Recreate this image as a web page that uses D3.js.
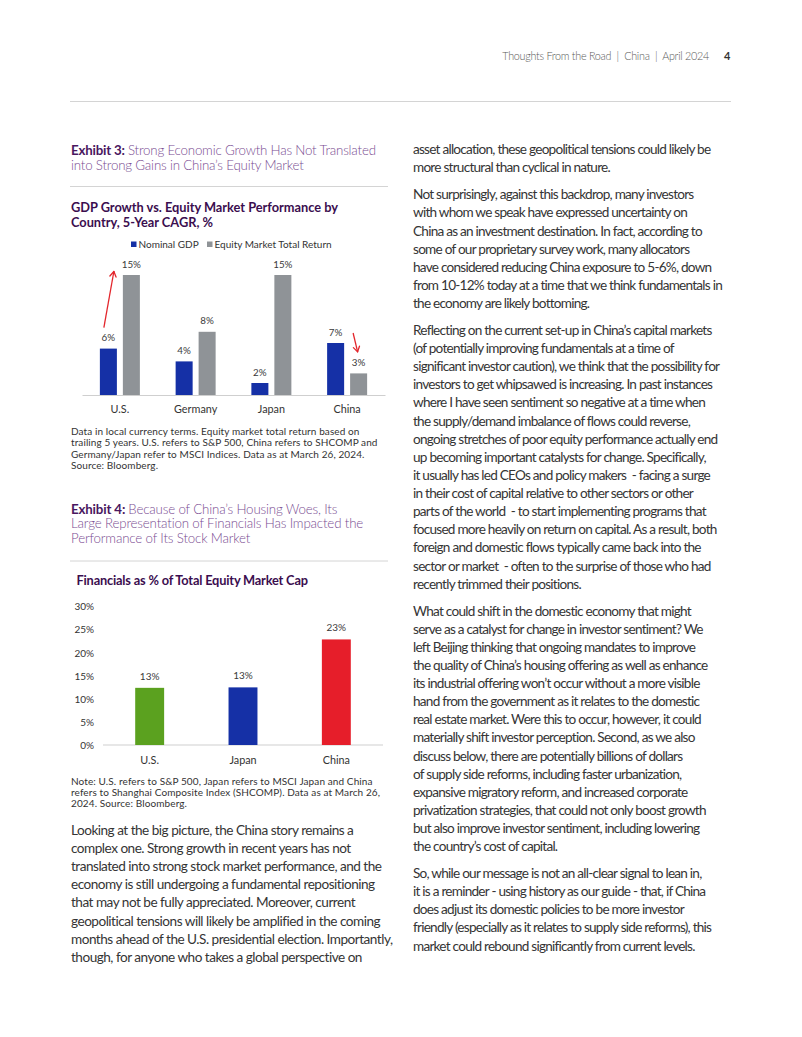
<!DOCTYPE html>
<html><head><meta charset="utf-8">
<script src="https://cdn.jsdelivr.net/npm/d3@7"></script>
<style>
html,body{margin:0;padding:0;background:#fff;}
svg{display:block;font-family:Lato,"Noto Sans",sans-serif;}
text{white-space:pre;}
</style>
</head><body>
<svg id="page" width="802" height="1037"></svg>
<script>
// ---------- DATA ----------
const gdpCategories = ["U.S.", "Germany", "Japan", "China"];
const gdpSeries = ["Nominal GDP", "Equity Market Total Return"];
const nominalGdp = [5.8, 4.2, 1.5, 6.5];
const equityReturn = [15, 7.9, 15, 2.7];
const nominalGdpLabels = ["6%", "4%", "2%", "7%"];
const equityReturnLabels = ["15%", "8%", "15%", "3%"];

const finCategories = ["U.S.", "Japan", "China"];
const financialsShare = [12.4, 12.5, 22.9];
const financialsLabels = ["13%", "13%", "23%"];
const finTicks = [0, 5, 10, 15, 20, 25, 30];

// ---------- TEXT ----------
const headerText = "Thoughts From the Road  |  China  |  April 2024";
const pageNumber = "4";
const exhibit3Title = [["Exhibit 3: ", "Strong Economic Growth Has Not Translated"], ["", "into Strong Gains in China’s Equity Market"]];
const chart1Title = ["GDP Growth vs. Equity Market Performance by", "Country, 5-Year CAGR, %"];
const note1 = ["Data in local currency terms. Equity market total return based on",
  "trailing 5 years. U.S. refers to S&P 500, China refers to SHCOMP and",
  "Germany/Japan refer to MSCI Indices. Data as at March 26, 2024.",
  "Source: Bloomberg."];
const exhibit4Title = [["Exhibit 4: ", "Because of China’s Housing Woes, Its"], ["", "Large Representation of Financials Has Impacted the"], ["", "Performance of Its Stock Market"]];
const chart2Title = "Financials as % of Total Equity Market Cap";
const note2 = ["Note: U.S. refers to S&P 500, Japan refers to MSCI Japan and China",
  "refers to Shanghai Composite Index (SHCOMP). Data as at March 26,",
  "2024. Source: Bloomberg."];
const leftBody = [[
  "Looking at the big picture, the China story remains a",
  "complex one. Strong growth in recent years has not",
  "translated into strong stock market performance, and the",
  "economy is still undergoing a fundamental repositioning",
  "that may not be fully appreciated. Moreover, current",
  "geopolitical tensions will likely be amplified in the coming",
  "months ahead of the U.S. presidential election. Importantly,",
  "though, for anyone who takes a global perspective on"]];
const rightBody = [
 ["asset allocation, these geopolitical tensions could likely be",
  "more structural than cyclical in nature."],
 ["Not surprisingly, against this backdrop, many investors",
  "with whom we speak have expressed uncertainty on",
  "China as an investment destination. In fact, according to",
  "some of our proprietary survey work, many allocators",
  "have considered reducing China exposure to 5-6%, down",
  "from 10-12% today at a time that we think fundamentals in",
  "the economy are likely bottoming."],
 ["Reflecting on the current set-up in China’s capital markets",
  "(of potentially improving fundamentals at a time of",
  "significant investor caution), we think that the possibility for",
  "investors to get whipsawed is increasing. In past instances",
  "where I have seen sentiment so negative at a time when",
  "the supply/demand imbalance of flows could reverse,",
  "ongoing stretches of poor equity performance actually end",
  "up becoming important catalysts for change. Specifically,",
  "it usually has led CEOs and policy makers  - facing a surge",
  "in their cost of capital relative to other sectors or other",
  "parts of the world  - to start implementing programs that",
  "focused more heavily on return on capital. As a result, both",
  "foreign and domestic flows typically came back into the",
  "sector or market  - often to the surprise of those who had",
  "recently trimmed their positions."],
 ["What could shift in the domestic economy that might",
  "serve as a catalyst for change in investor sentiment? We",
  "left Beijing thinking that ongoing mandates to improve",
  "the quality of China’s housing offering as well as enhance",
  "its industrial offering won’t occur without a more visible",
  "hand from the government as it relates to the domestic",
  "real estate market. Were this to occur, however, it could",
  "materially shift investor perception. Second, as we also",
  "discuss below, there are potentially billions of dollars",
  "of supply side reforms, including faster urbanization,",
  "expansive migratory reform, and increased corporate",
  "privatization strategies, that could not only boost growth",
  "but also improve investor sentiment, including lowering",
  "the country’s cost of capital."],
 ["So, while our message is not an all-clear signal to lean in,",
  "it is a reminder - using history as our guide - that, if China",
  "does adjust its domestic policies to be more investor",
  "friendly (especially as it relates to supply side reforms), this",
  "market could rebound significantly from current levels."]];

// ---------- STYLE ----------
const C = {
  body: "#353535", note: "#333", header: "#5a5a5a",
  exBold: "#4a1760", exReg: "#7a4d92", chartTitle: "#3b0e4f",
  rule: "#d4d4d4", axis: "#cfcfcf",
  blue: "#1530a6", gray: "#8f9397", green: "#5ba11f", red: "#e61e2a", arrow: "#e3262c"
};

const svg = d3.select("#page");
svg.append("rect").attr("width", 802).attr("height", 1037).attr("fill", "#fff");

function fitSpacing(nodes, refNode, target) {
  const w = refNode.getComputedTextLength();
  const n = refNode.textContent.length;
  const ls = (target - w) / Math.max(1, n - 1);
  nodes.forEach(nd => d3.select(nd).attr("letter-spacing", ls.toFixed(3)));
}

// ---------- HEADER ----------
const hdr = svg.append("text").attr("x", 709).attr("y", 59.5).attr("text-anchor", "end")
  .attr("font-size", 10.8).attr("font-weight", 300).attr("fill", C.header).text(headerText);
fitSpacing([hdr.node()], hdr.node(), 207);
svg.append("text").attr("x", 724).attr("y", 59.5).attr("font-size", 11).attr("font-weight", 700)
  .attr("fill", "#333").text(pageNumber);
svg.append("line").attr("x1", 70).attr("x2", 731).attr("y1", 101.5).attr("y2", 101.5)
  .attr("stroke", C.rule).attr("stroke-width", 1);

// ---------- helpers ----------
function exhibitTitle(lines, x, y0, lh) {
  const nodes = [];
  lines.forEach((ln, i) => {
    const t = svg.append("text").attr("x", x).attr("y", y0 + i * lh).attr("font-size", 13.3);
    if (ln[0]) t.append("tspan").attr("font-weight", 700).attr("fill", C.exBold).text(ln[0]);
    t.append("tspan").attr("fill", C.exReg).attr("font-weight", 300).text(ln[1]);
    nodes.push(t.node());
  });
  return nodes;
}
function lineBlock(lines, x, y0, lh, size, color, weight) {
  return lines.map((ln, i) => svg.append("text").attr("x", x).attr("y", y0 + i * lh)
    .attr("font-size", size).attr("fill", color).attr("font-weight", weight || 400).text(ln).node());
}
function paragraphs(paras, x, y0, lh, gap, size) {
  const nodes = [];
  let y = y0;
  paras.forEach(p => {
    p.forEach(ln => {
      nodes.push(svg.append("text").attr("x", x).attr("y", y).attr("font-size", size)
        .attr("fill", C.body).text(ln).node());
      y += lh;
    });
    y += gap;
  });
  return nodes;
}

// ---------- EXHIBIT 3 ----------
const ex3 = exhibitTitle(exhibit3Title, 71, 155, 15.2);
fitSpacing(ex3, ex3[0], 305);
svg.append("line").attr("x1", 70).attr("x2", 388).attr("y1", 186.5).attr("y2", 186.5)
  .attr("stroke", C.rule);
const ct1 = lineBlock(chart1Title, 71, 211.5, 15.5, 12.8, C.chartTitle, 700);
fitSpacing(ct1, ct1[0], 267);

// chart 1
const y1 = d3.scaleLinear().domain([0, 15]).range([395, 275]);
const x0 = d3.scaleBand().domain(gdpCategories).range([82, 385]);
const groupW = 40;
const x1 = d3.scaleBand().domain(gdpSeries)
  .range([(x0.bandwidth() - groupW) / 2, (x0.bandwidth() + groupW) / 2]).paddingInner(0.26);
const g1 = svg.append("g");
const seriesVals = [nominalGdp, equityReturn];
const seriesLabels = [nominalGdpLabels, equityReturnLabels];
const seriesCols = [C.blue, C.gray];

// legend
const lg = svg.append("g").attr("font-size", 10).attr("fill", "#333");
const legendX = [131, 207];
gdpSeries.forEach((s, i) => {
  lg.append("rect").attr("x", legendX[i]).attr("y", 241.5).attr("width", 5.5).attr("height", 5.5).attr("fill", seriesCols[i]);
  lg.append("text").attr("x", legendX[i] + 7.5).attr("y", 247.5).attr("fill", "#333").text(s);
});

gdpSeries.forEach((s, si) => {
  const vals = seriesVals[si];
  g1.selectAll(null).data(gdpCategories).enter().append("rect")
    .attr("x", d => x0(d) + x1(s))
    .attr("y", (d, i) => y1(vals[i]))
    .attr("width", x1.bandwidth())
    .attr("height", (d, i) => y1(0) - y1(vals[i]))
    .attr("fill", seriesCols[si]);
  g1.selectAll(null).data(gdpCategories).enter().append("text")
    .attr("x", d => x0(d) + x1(s) + x1.bandwidth() / 2)
    .attr("y", (d, i) => y1(vals[i]) - 7.5)
    .attr("text-anchor", "middle").attr("font-size", 9.8).attr("fill", "#3a3a3a")
    .text((d, i) => seriesLabels[si][i]);
});
const ax1 = g1.append("g").attr("transform", `translate(0,${y1(0)})`)
  .call(d3.axisBottom(x0).tickSize(0).tickPadding(10));
ax1.select(".domain").attr("stroke", C.axis);
ax1.selectAll("text").attr("font-size", 10.8).attr("fill", "#333").attr("font-family", "Lato, sans-serif");

function arrow(xa, ya, xb, yb) {
  g1.append("line").attr("x1", xa).attr("y1", ya).attr("x2", xb).attr("y2", yb)
    .attr("stroke", C.arrow).attr("stroke-width", 1.3);
  const ang = Math.atan2(yb - ya, xb - xa);
  const L = 6, spread = 0.55;
  [ang + Math.PI - spread, ang + Math.PI + spread].forEach(a => {
    g1.append("line").attr("x1", xb).attr("y1", yb)
      .attr("x2", xb + L * Math.cos(a)).attr("y2", yb + L * Math.sin(a))
      .attr("stroke", C.arrow).attr("stroke-width", 1.3).attr("stroke-linecap", "round");
  });
}
{
  const us = gdpCategories[0], cn = gdpCategories[3];
  arrow(x0(us) + x1(gdpSeries[0]) + 4, y1(nominalGdp[0]) - 21,
        x0(us) + x1(gdpSeries[1]) - 9, y1(equityReturn[0]) - 3.5);
  arrow(x0(cn) + x1(gdpSeries[1]) + 3, y1(nominalGdp[3]) - 10,
        x0(cn) + x1(gdpSeries[1]) + 7.5, y1(equityReturn[3]) - 21.5);
}

const n1 = lineBlock(note1, 71, 435, 11.45, 10, C.note);
fitSpacing(n1, n1[1], 306.5);

// ---------- EXHIBIT 4 ----------
const ex4 = exhibitTitle(exhibit4Title, 71, 513.5, 14.7);
fitSpacing(ex4, ex4[1], 292.5);
svg.append("line").attr("x1", 70).attr("x2", 388).attr("y1", 561).attr("y2", 561)
  .attr("stroke", C.rule);
const ct2 = lineBlock([chart2Title], 76.5, 585, 15, 12.8, C.chartTitle, 700);
fitSpacing(ct2, ct2[0], 231.5);

const y2 = d3.scaleLinear().domain([0, 30]).range([745, 606.7]);
const xb = d3.scaleBand().domain(finCategories).range([103, 383]).paddingInner(0.69).paddingOuter(0.345);
const finColors = [C.green, C.blue, C.red];
const g2 = svg.append("g");
const yax = g2.append("g").attr("transform", "translate(94,0)")
  .call(d3.axisLeft(y2).tickValues(finTicks).tickFormat(d => d + "%").tickSize(0).tickPadding(0));
yax.select(".domain").remove();
yax.selectAll("text").attr("font-size", 10).attr("fill", "#333").attr("font-family", "Lato, sans-serif");
g2.append("line").attr("x1", 103).attr("x2", 383).attr("y1", y2(0)).attr("y2", y2(0)).attr("stroke", C.axis);
g2.selectAll(null).data(finCategories).enter().append("rect")
  .attr("x", d => xb(d)).attr("y", (d, i) => y2(financialsShare[i]))
  .attr("width", xb.bandwidth()).attr("height", (d, i) => y2(0) - y2(financialsShare[i]))
  .attr("fill", (d, i) => finColors[i]);
g2.selectAll(null).data(finCategories).enter().append("text")
  .attr("x", d => xb(d) + xb.bandwidth() / 2).attr("y", (d, i) => y2(financialsShare[i]) - 8)
  .attr("text-anchor", "middle").attr("font-size", 10).attr("fill", "#3a3a3a")
  .text((d, i) => financialsLabels[i]);
g2.selectAll(null).data(finCategories).enter().append("text")
  .attr("x", d => xb(d) + xb.bandwidth() / 2).attr("y", 763.5)
  .attr("text-anchor", "middle").attr("font-size", 10.8).attr("fill", "#333").text(d => d);

const n2 = lineBlock(note2, 71, 785, 10.9, 10, C.note);
fitSpacing(n2, n2[0], 301.5);

// ---------- BODY ----------
const lb = paragraphs(leftBody, 71, 835, 18.12, 8.8, 13.6);
fitSpacing(lb, lb[2], 311);
const rb = paragraphs(rightBody, 413, 154.3, 18.12, 8.8, 13.6);
fitSpacing(rb, rb[7], 310);
</script>
</body></html>
